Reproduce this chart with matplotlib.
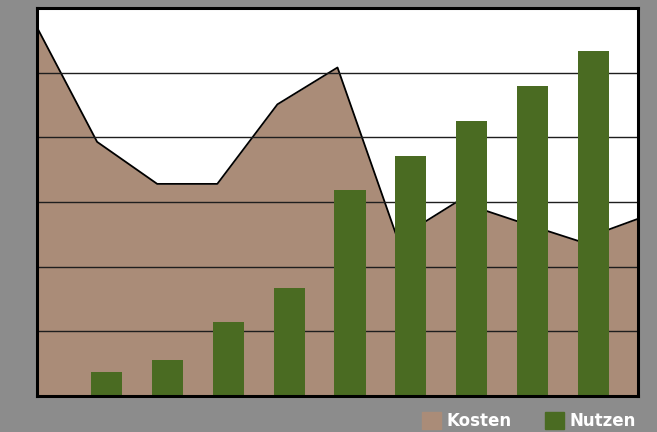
import matplotlib.pyplot as plt
import matplotlib.patches as mpatches
import numpy as np

# Kosten (area) - 11 points along the category axis
kosten_x = np.arange(11)
kosten = [5.70, 3.93, 3.28, 3.28, 4.51, 5.08, 2.43, 3.01, 2.70, 2.40, 2.74]

# Nutzen (bars) - 9 bars
nutzen = [0.37, 0.56, 1.14, 1.67, 3.18, 3.71, 4.25, 4.79, 5.33]

bg = '#8c8c8c'
c_kosten = '#aa8c78'
c_nutzen = '#4a6b22'

fig = plt.figure(figsize=(6.57, 4.32), dpi=100, facecolor=bg)
ax = fig.add_axes([37/657, 36/432, 601/657, 388/432])
ax.set_facecolor('white')

ax.set_xlim(0, 10)
ax.set_ylim(0, 6)

ax.fill_between(kosten_x, kosten, 0, color=c_kosten, lw=0, zorder=2)
ax.plot(kosten_x, kosten, color='black', lw=1.3, zorder=3)

# grid lines, drawn over the area
for y in range(1, 6):
    ax.axhline(y, color='#1e1e1e', lw=1.0, zorder=3.5)

bar_x = 1.156 + np.arange(len(nutzen)) * 1.013
ax.bar(bar_x, nutzen, width=0.516, color=c_nutzen, lw=0, zorder=4)

for s in ax.spines.values():
    s.set_linewidth(2.2)
    s.set_color('black')
    s.set_zorder(6)
ax.set_xticks([])
ax.set_yticks([])

handles = [mpatches.Patch(color=c_kosten, label='Kosten'),
           mpatches.Patch(color=c_nutzen, label='Nutzen')]
fig.legend(handles=handles, loc='lower right', bbox_to_anchor=(0.99, -0.03),
           ncol=2, frameon=False, labelcolor='white',
           prop={'weight': 'bold', 'size': 12},
           handlelength=1.15, handleheight=1.15, handletextpad=0.3,
           columnspacing=2.0)

fig.savefig('out.png', dpi=100, facecolor=bg)
